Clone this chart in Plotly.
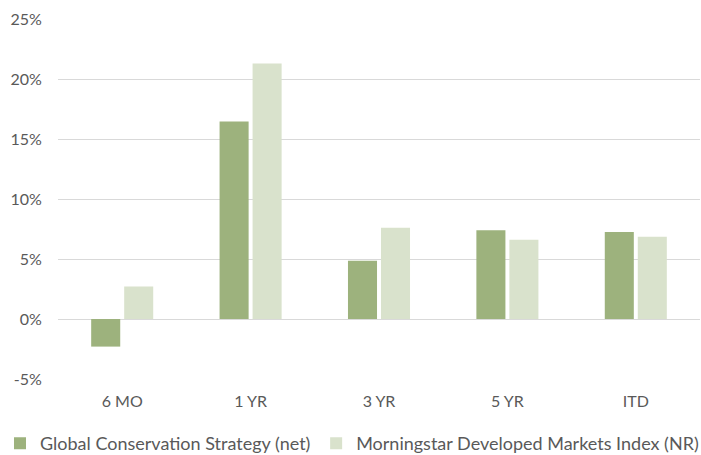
import plotly.graph_objects as go

categories = ["6 MO", "1 YR", "3 YR", "5 YR", "ITD"]
strategy = [-2.3, 16.45, 4.85, 7.4, 7.25]
index_nr = [2.7, 21.3, 7.6, 6.6, 6.85]
series_names = ["Global Conservation Strategy (net)", "Morningstar Developed Markets Index (NR)"]
y_ticks = [-5, 0, 5, 10, 15, 20, 25]
y_tick_labels = ["-5%", "0%", "5%", "10%", "15%", "20%", "25%"]

FONT = "Lato, 'Open Sans', sans-serif"
TXT = "#595959"

fig = go.Figure()
fig.add_trace(go.Bar(x=categories, y=strategy, name=series_names[0], legend="legend",
                     marker=dict(color="#9db27d", line=dict(width=0))))
fig.add_trace(go.Bar(x=categories, y=index_nr, name=series_names[1], legend="legend2",
                     marker=dict(color="#d9e2cc", line=dict(width=0))))

legend_common = dict(orientation="h", xref="container", yref="container",
                     xanchor="left", y=0.025, yanchor="middle",
                     font=dict(size=18, color=TXT), itemwidth=30)

fig.update_layout(
    width=701, height=455,
    margin=dict(l=58, r=1, t=19, b=76, autoexpand=False),
    paper_bgcolor="white", plot_bgcolor="white",
    barmode="group", bargap=0.486, bargroupgap=0.12,
    font=dict(family=FONT, color=TXT, size=16),
    showlegend=True,
    legend=dict(x=-0.0043, **legend_common),
    legend2=dict(x=0.451, **legend_common),
    xaxis=dict(showgrid=False, showline=False, zeroline=False, ticks="outside",
               ticklen=8, tickcolor="rgba(0,0,0,0)", tickfont=dict(size=16, color=TXT)),
    yaxis=dict(range=[-5, 25], tickvals=y_ticks, ticktext=y_tick_labels, showgrid=True,
               gridcolor="#d9d9d9", gridwidth=1, zeroline=False, showline=False,
               ticks="outside", ticklen=12, tickcolor="rgba(0,0,0,0)",
               tickfont=dict(size=16, color=TXT)),
)

fig.write_html("out.html", config={"displayModeBar": False},
               post_script="document.body.style.margin='0';")
